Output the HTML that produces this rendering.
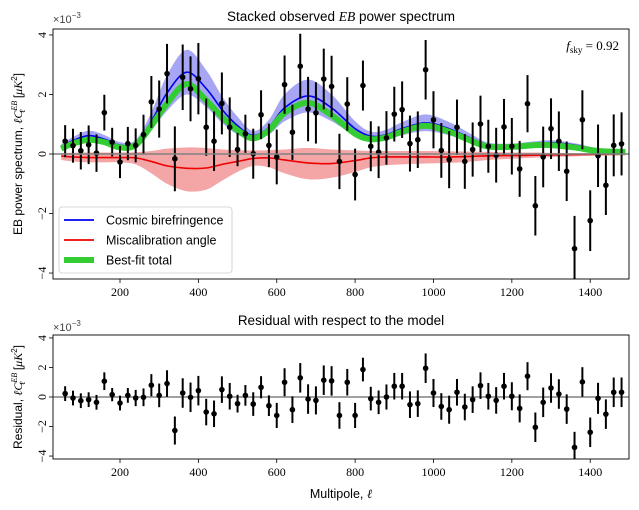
<!DOCTYPE html>
<html><head><meta charset="utf-8">
<style>
html,body{margin:0;padding:0;background:#fff;}
svg{display:block;font-family:"Liberation Sans","DejaVu Sans",sans-serif;}
</style></head>
<body>
<svg id="chart" width="639" height="510" viewBox="0 0 639 510" xmlns="http://www.w3.org/2000/svg">
  <text x="341" y="21" font-size="13.5" text-anchor="middle">Stacked observed <tspan font-family="Liberation Serif" font-style="italic">EB</tspan> power spectrum</text>
  <text x="53" y="23" font-size="11" fill="#444">×10<tspan dy="-5" font-size="8">−3</tspan></text>
  <text transform="translate(22,154) rotate(-90)" font-size="12" text-anchor="middle">EB power spectrum, <tspan font-family="Liberation Serif" font-style="italic">ℓC</tspan><tspan font-family="Liberation Serif" font-style="italic" font-size="8" dy="-5">EB</tspan><tspan font-family="Liberation Serif" font-style="italic" font-size="8" dy="8" dx="-12">ℓ</tspan><tspan dy="-3" dx="8"> [</tspan><tspan font-family="Liberation Serif" font-style="italic">μK</tspan><tspan font-size="8" dy="-5">2</tspan><tspan dy="5">]</tspan></text>
  <text x="619" y="50" font-size="13" text-anchor="end" font-family="Liberation Serif"><tspan font-style="italic">f</tspan><tspan font-size="9" dy="3">sky</tspan><tspan dy="-3"> = 0.92</tspan></text>
  <text x="341" y="325" font-size="13.5" text-anchor="middle">Residual with respect to the model</text>
  <text x="53" y="331" font-size="11" fill="#444">×10<tspan dy="-5" font-size="8">−3</tspan></text>
  <text transform="translate(22,397) rotate(-90)" font-size="12" text-anchor="middle">Residual, <tspan font-family="Liberation Serif" font-style="italic">ℓC</tspan><tspan font-family="Liberation Serif" font-style="italic" font-size="8" dy="-5">EB</tspan><tspan font-family="Liberation Serif" font-style="italic" font-size="8" dy="8" dx="-12">ℓ</tspan><tspan dy="-3" dx="8"> [</tspan><tspan font-family="Liberation Serif" font-style="italic">μK</tspan><tspan font-size="8" dy="-5">2</tspan><tspan dy="5">]</tspan></text>
  <text x="341" y="498" font-size="12.5" text-anchor="middle">Multipole, <tspan font-family="Liberation Serif" font-style="italic">ℓ</tspan></text>
  <g id="gTop"></g>
  <g id="gBot"></g>
</svg>
<script>
// ---- data ----
const ells = [60,80,100,120,140,160,180,200,220,240,260,280,300,320,340,360,380,400,420,440,460,480,500,520,540,560,580,600,620,640,660,680,700,720,740,760,780,800,820,840,860,880,900,920,940,960,980,1000,1020,1040,1060,1080,1100,1120,1140,1160,1180,1200,1220,1240,1260,1280,1300,1320,1340,1360,1380,1400,1420,1440,1460,1480];
const observed = [0.43,0.28,0.11,0.31,0.03,1.39,0.40,-0.27,0.35,0.29,0.65,1.75,1.51,2.70,-0.16,2.58,2.19,2.53,0.90,0.43,1.70,0.90,0.15,0.68,0.01,1.32,0.29,-0.10,2.33,0.73,2.95,1.51,1.38,2.52,2.27,-0.25,1.68,-0.69,2.30,0.26,0.06,0.54,1.34,1.49,0.35,0.48,2.83,1.15,0.12,-0.19,0.90,-0.25,0.15,1.01,0.26,-0.04,0.91,0.26,-0.50,1.69,-1.74,-0.10,0.85,0.43,-0.58,-3.18,1.15,-2.24,-0.06,-1.05,0.29,0.34];
const errors = [0.54,0.57,0.63,0.65,0.63,0.60,0.48,0.54,0.56,0.57,0.67,0.87,0.96,1.0,1.09,1.1,1.09,1.2,0.96,1.0,1.04,1.0,0.56,0.64,0.84,0.82,0.73,0.92,0.98,0.93,1.09,1.08,1.03,1.02,1.03,0.93,0.9,0.87,0.84,0.84,0.87,0.9,0.92,0.95,0.94,0.95,1.0,0.96,0.92,0.96,0.93,0.92,0.91,0.95,0.89,0.92,0.94,0.95,0.94,0.96,1.0,1.02,1.02,1.0,1.0,1.1,0.99,1.02,1.05,1.0,1.04,1.06];
const residuals = [0.23,-0.07,-0.25,-0.18,-0.36,1.07,0.16,-0.41,0.11,-0.07,-0.02,0.80,0.11,0.91,-2.27,0.27,-0.02,0.43,-1.02,-1.14,0.50,0.05,-0.45,0.11,-0.48,0.66,-0.59,-1.25,1.0,-0.86,1.30,-0.14,-0.23,1.14,1.09,-1.25,1.0,-1.25,1.86,-0.11,-0.36,0,0.73,0.73,-0.52,-0.45,1.95,0.27,-0.64,-0.86,0.32,-0.68,-0.18,0.77,0.05,-0.23,0.73,0.05,-0.77,1.41,-2.05,-0.36,0.61,0.20,-0.82,-3.41,1.02,-2.39,-0.09,-1.16,0.32,0.32];
const resErrors = [0.5,0.5,0.5,0.5,0.5,0.6,0.45,0.5,0.5,0.55,0.6,0.75,0.8,0.9,0.95,1.0,1.0,1.0,0.9,0.9,0.9,0.9,0.6,0.7,0.8,0.75,0.7,0.85,0.95,0.9,1.0,1.0,0.95,1.0,1.0,0.9,0.9,0.85,0.8,0.8,0.8,0.85,0.9,0.9,0.9,0.9,1.0,0.95,0.9,0.95,0.9,0.9,0.9,0.9,0.9,0.9,0.9,0.95,0.95,0.95,1.0,1.0,1.0,1.0,1.0,1.05,1.0,1.0,1.05,1.0,1.0,1.0];
const curveElls = [50,80,120,160,200,240,280,320,370,420,460,500,540,580,620,680,740,800,840,880,920,980,1040,1100,1140,1200,1260,1300,1360,1420,1490];
const cosmic = [0.25,0.45,0.62,0.5,0.3,0.35,1.1,2.05,2.75,2.2,1.5,0.95,0.62,0.9,1.55,1.95,1.55,0.85,0.6,0.65,0.85,1.05,0.85,0.5,0.3,0.28,0.35,0.38,0.3,0.15,0.07];
const cosmicErr = [0.08,0.12,0.16,0.14,0.1,0.12,0.3,0.6,0.75,0.62,0.45,0.3,0.15,0.25,0.45,0.55,0.45,0.25,0.15,0.17,0.22,0.28,0.22,0.14,0.08,0.07,0.08,0.08,0.06,0.04,0.03];
const miscal = [-0.07,-0.1,-0.12,-0.12,-0.12,-0.13,-0.25,-0.4,-0.48,-0.47,-0.35,-0.25,-0.15,-0.13,-0.2,-0.3,-0.32,-0.22,-0.13,-0.1,-0.1,-0.1,-0.1,-0.08,-0.06,-0.05,-0.04,-0.03,-0.02,-0.01,0];
const miscalHi = [0.03,0.04,0.05,0.05,0.05,0.06,0.1,0.18,0.22,0.2,0.15,0.13,0.12,0.13,0.15,0.2,0.15,0.12,0.1,0.1,0.1,0.1,0.09,0.08,0.07,0.05,0.05,0.04,0.03,0.03,0.02];
const miscalLo = [-0.2,-0.25,-0.28,-0.28,-0.28,-0.35,-0.65,-1.0,-1.25,-1.2,-0.9,-0.6,-0.4,-0.45,-0.65,-0.85,-0.8,-0.6,-0.45,-0.38,-0.35,-0.32,-0.3,-0.25,-0.2,-0.16,-0.12,-0.1,-0.08,-0.06,-0.05];
const bestFit = [0.18,0.35,0.48,0.4,0.22,0.3,0.95,1.7,2.35,1.8,1.25,0.8,0.53,0.8,1.38,1.72,1.3,0.68,0.5,0.56,0.75,0.95,0.75,0.42,0.25,0.24,0.3,0.3,0.22,0.1,0.07];
const xTicks = [200,400,600,800,1000,1200,1400];
const yTicks = [-4,-2,0,2,4];

// ---- axes ----
const X0=53, X1=629, XMIN=29, XMAX=1499;
function sx(l){return X0+(l-XMIN)*(X1-X0)/(XMAX-XMIN);}
const TOP={y0:29,y1:279,min:-4.2,max:4.2};
const BOT={y0:335,y1:459,min:-4.2,max:4.2};
function sy(p,v){return p.y1-(v-p.min)*(p.y1-p.y0)/(p.max-p.min);}
const NS="http://www.w3.org/2000/svg";
function mk(parent,tag,attrs){const e=document.createElementNS(NS,tag);for(const k in attrs)e.setAttribute(k,attrs[k]);parent.appendChild(e);return e;}
function smooth(pts){
  let d="M"+pts[0][0].toFixed(2)+","+pts[0][1].toFixed(2);
  for(let i=0;i<pts.length-1;i++){
    const p0=pts[i-1]||pts[i],p1=pts[i],p2=pts[i+1],p3=pts[i+2]||p2;
    const c1=[p1[0]+(p2[0]-p0[0])/6,p1[1]+(p2[1]-p0[1])/6];
    const c2=[p2[0]-(p3[0]-p1[0])/6,p2[1]-(p3[1]-p1[1])/6];
    d+=" C"+c1[0].toFixed(2)+","+c1[1].toFixed(2)+" "+c2[0].toFixed(2)+","+c2[1].toFixed(2)+" "+p2[0].toFixed(2)+","+p2[1].toFixed(2);
  }
  return d;
}
function band(p,lo,hi){
  const up=curveElls.map((l,i)=>[sx(l),sy(p,hi[i])]);
  const dn=curveElls.map((l,i)=>[sx(l),sy(p,lo[i])]).reverse();
  return smooth(up)+" L"+smooth(dn).slice(1)+" Z";
}
function axes(g,p,showXLabels,prefix){
  for(const t of xTicks){
    const tk=mk(g,"line",{x1:sx(t),x2:sx(t),y1:p.y1,y2:p.y1+4,stroke:"#000","stroke-width":0.8});
    
    
    if(showXLabels){
      const tl=mk(g,"text",{x:sx(t),y:p.y1+17,"font-size":12,"text-anchor":"middle","font-family":"Liberation Serif"});
      tl.textContent=t;
      
      
    }
  }
  for(const t of yTicks){
    const tk=mk(g,"line",{x1:X0-4,x2:X0,y1:sy(p,t),y2:sy(p,t),stroke:"#000","stroke-width":0.8});
    
    
    const tl=mk(g,"text",{transform:"translate("+(X0-7)+","+sy(p,t)+") rotate(-90)","font-size":12,"text-anchor":"middle","font-family":"Liberation Serif"});
    tl.textContent=t<0?"−"+(-t):String(t);
    
    
  }
  const z=mk(g,"line",{x1:X0,x2:X1,y1:sy(p,0),y2:sy(p,0),stroke:"#808080","stroke-width":1.6});
  
  
}
function points(g,p,vals,errs,prefix){
  ells.forEach((l,i)=>{
    const x=sx(l);
    const hi=Math.max(p.min,Math.min(p.max,vals[i]+errs[i])),lo=Math.max(p.min,Math.min(p.max,vals[i]-errs[i]));
    const eb=mk(g,"line",{x1:x,x2:x,y1:sy(p,hi),y2:sy(p,lo),stroke:"#000","stroke-width":2});
    
    
    const c=mk(g,"circle",{cx:x,cy:sy(p,vals[i]),r:2.8,fill:"#000"});
    
    
  });
}
function frame(g,p,prefix){
  const f=mk(g,"rect",{x:X0,y:p.y0,width:X1-X0,height:p.y1-p.y0,fill:"none",stroke:"#000","stroke-width":0.9});
  
  
}

// ---- top panel ----
const gt=document.getElementById("gTop");
const clipT=mk(gt,"clipPath",{id:"ct"});mk(clipT,"rect",{x:X0,y:TOP.y0,width:X1-X0,height:TOP.y1-TOP.y0});
const inner=mk(gt,"g",{"clip-path":"url(#ct)"});
const bb=mk(inner,"path",{d:band(TOP,cosmic.map((v,i)=>v-cosmicErr[i]),cosmic.map((v,i)=>v+cosmicErr[i])),fill:"#8080f0","fill-opacity":0.7,stroke:"none"});


const rb=mk(inner,"path",{d:band(TOP,miscalLo,miscalHi),fill:"#f08080","fill-opacity":0.7,stroke:"none"});


axes(gt,TOP,true,"top");
const bl=mk(inner,"path",{d:smooth(curveElls.map((l,i)=>[sx(l),sy(TOP,cosmic[i])])),fill:"none",stroke:"#0000ee","stroke-width":1.6});


const rl=mk(inner,"path",{d:smooth(curveElls.map((l,i)=>[sx(l),sy(TOP,miscal[i])])),fill:"none",stroke:"#ee0000","stroke-width":1.6});


const gl=mk(inner,"path",{d:smooth(curveElls.map((l,i)=>[sx(l),sy(TOP,bestFit[i])])),fill:"none",stroke:"#33cc33","stroke-width":6});


points(inner,TOP,observed,errors,"top");
frame(gt,TOP,"top");
// legend
const lg=mk(gt,"g",{});


mk(lg,"rect",{x:59,y:207,width:173,height:66,rx:3,fill:"#fff","fill-opacity":0.85,stroke:"#ccc","stroke-width":0.8});
const entries=[["Cosmic birefringence","#0000ee",1.8,220,"legend-entry-cosmic"],["Miscalibration angle","#ee0000",1.8,240,"legend-entry-miscalibration"],["Best-fit total","#33cc33",6,260,"legend-entry-best-fit"]];
for(const e of entries){
  const eg=mk(lg,"g",{});
  
  
  mk(eg,"line",{x1:64,x2:94,y1:e[3],y2:e[3],stroke:e[1],"stroke-width":e[2]});
  const t=mk(eg,"text",{x:106,y:e[3]+4.5,"font-size":12.5});
  t.textContent=e[0];
}

// ---- bottom panel ----
const gb=document.getElementById("gBot");
const clipB=mk(gb,"clipPath",{id:"cb"});mk(clipB,"rect",{x:X0,y:BOT.y0,width:X1-X0,height:BOT.y1-BOT.y0});
axes(gb,BOT,true,"bottom");
const innerB=mk(gb,"g",{"clip-path":"url(#cb)"});
points(innerB,BOT,residuals,resErrors,"residual");
frame(gb,BOT,"bottom");
</script>
</body></html>
